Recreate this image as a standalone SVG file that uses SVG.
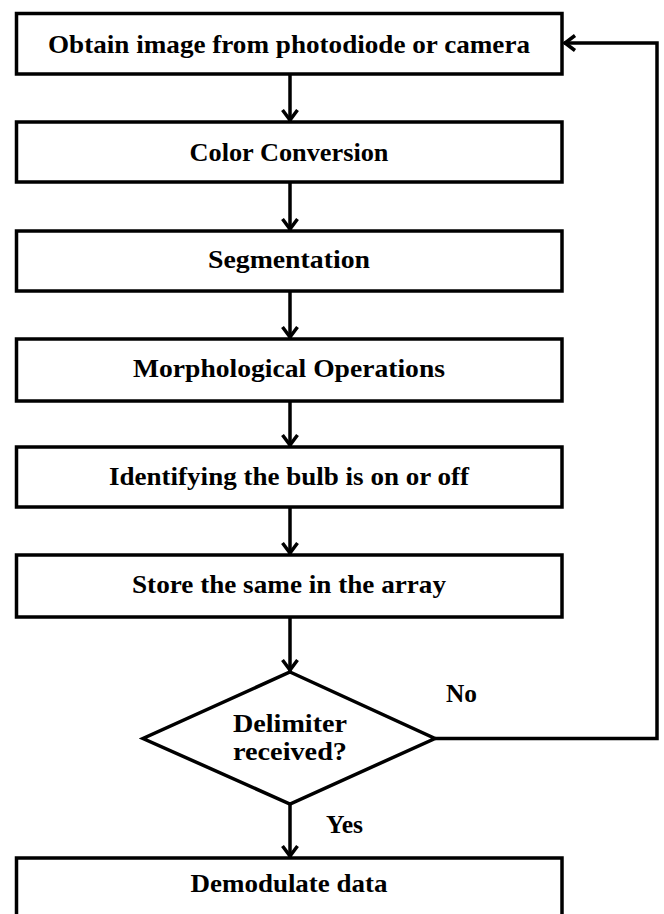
<svg xmlns="http://www.w3.org/2000/svg" width="664" height="914" viewBox="0 0 664 914">
<style>
.box{fill:#fff;stroke:#000;stroke-width:3.5}
.t{font-family:"Liberation Serif","Times New Roman",serif;font-weight:bold;font-size:25px;fill:#000;text-anchor:middle}
.c{fill:none;stroke:#000;stroke-width:3.5}
</style>
<defs>
<marker id="ah" markerUnits="userSpaceOnUse" markerWidth="30" markerHeight="30" refX="0" refY="0" viewBox="-15 -15 30 30" orient="auto">
<path d="M-11,-7.5 L-1,0 L-11,7.5" fill="none" stroke="#000" stroke-width="3.5" stroke-linejoin="miter"/>
</marker>
</defs>
<rect width="664" height="914" fill="#fff"/>
<g id="n1"><rect class="box" x="16.5" y="13.5" width="545.5" height="60.5"/><text class="t" x="289" y="53" textLength="482" lengthAdjust="spacingAndGlyphs">Obtain image from photodiode or camera</text></g>
<g id="n2"><rect class="box" x="16.5" y="122" width="545.5" height="60"/><text class="t" x="289" y="161" textLength="199" lengthAdjust="spacingAndGlyphs">Color Conversion</text></g>
<g id="n3"><rect class="box" x="16.5" y="231" width="545.5" height="60"/><text class="t" x="289" y="268" textLength="162" lengthAdjust="spacingAndGlyphs">Segmentation</text></g>
<g id="n4"><rect class="box" x="16.5" y="339" width="545.5" height="62"/><text class="t" x="289" y="377" textLength="312" lengthAdjust="spacingAndGlyphs">Morphological Operations</text></g>
<g id="n5"><rect class="box" x="16.5" y="447" width="545.5" height="60"/><text class="t" x="289" y="485" textLength="360" lengthAdjust="spacingAndGlyphs">Identifying the bulb is on or off</text></g>
<g id="n6"><rect class="box" x="16.5" y="555" width="545.5" height="62"/><text class="t" x="289" y="593" textLength="314" lengthAdjust="spacingAndGlyphs">Store the same in the array</text></g>
<g id="n7"><polygon class="box" points="290,672 435,738.5 290,804 143,738.5"/><text class="t" x="290" y="732" textLength="114" lengthAdjust="spacingAndGlyphs">Delimiter</text><text class="t" x="290" y="760" textLength="114" lengthAdjust="spacingAndGlyphs">received?</text></g>
<g id="n8"><rect class="box" x="16.5" y="858" width="545.5" height="80"/><text class="t" x="289" y="892" textLength="197" lengthAdjust="spacingAndGlyphs">Demodulate data</text></g>
<g id="connectors">
<path class="c" d="M290,74 V121" marker-end="url(#ah)"/>
<path class="c" d="M290,182 V230" marker-end="url(#ah)"/>
<path class="c" d="M290,291 V338" marker-end="url(#ah)"/>
<path class="c" d="M290,401 V446" marker-end="url(#ah)"/>
<path class="c" d="M290,507 V554" marker-end="url(#ah)"/>
<path class="c" d="M290,617 V671" marker-end="url(#ah)"/>
<path class="c" d="M290,804 V857" marker-end="url(#ah)"/>
<path class="c" d="M435,738.5 H657 V43 H564" marker-end="url(#ah)"/>
<text class="t" x="461.5" y="702" textLength="31" lengthAdjust="spacingAndGlyphs">No</text>
<text class="t" x="344.5" y="833" textLength="37" lengthAdjust="spacingAndGlyphs">Yes</text>
</g>
</svg>
